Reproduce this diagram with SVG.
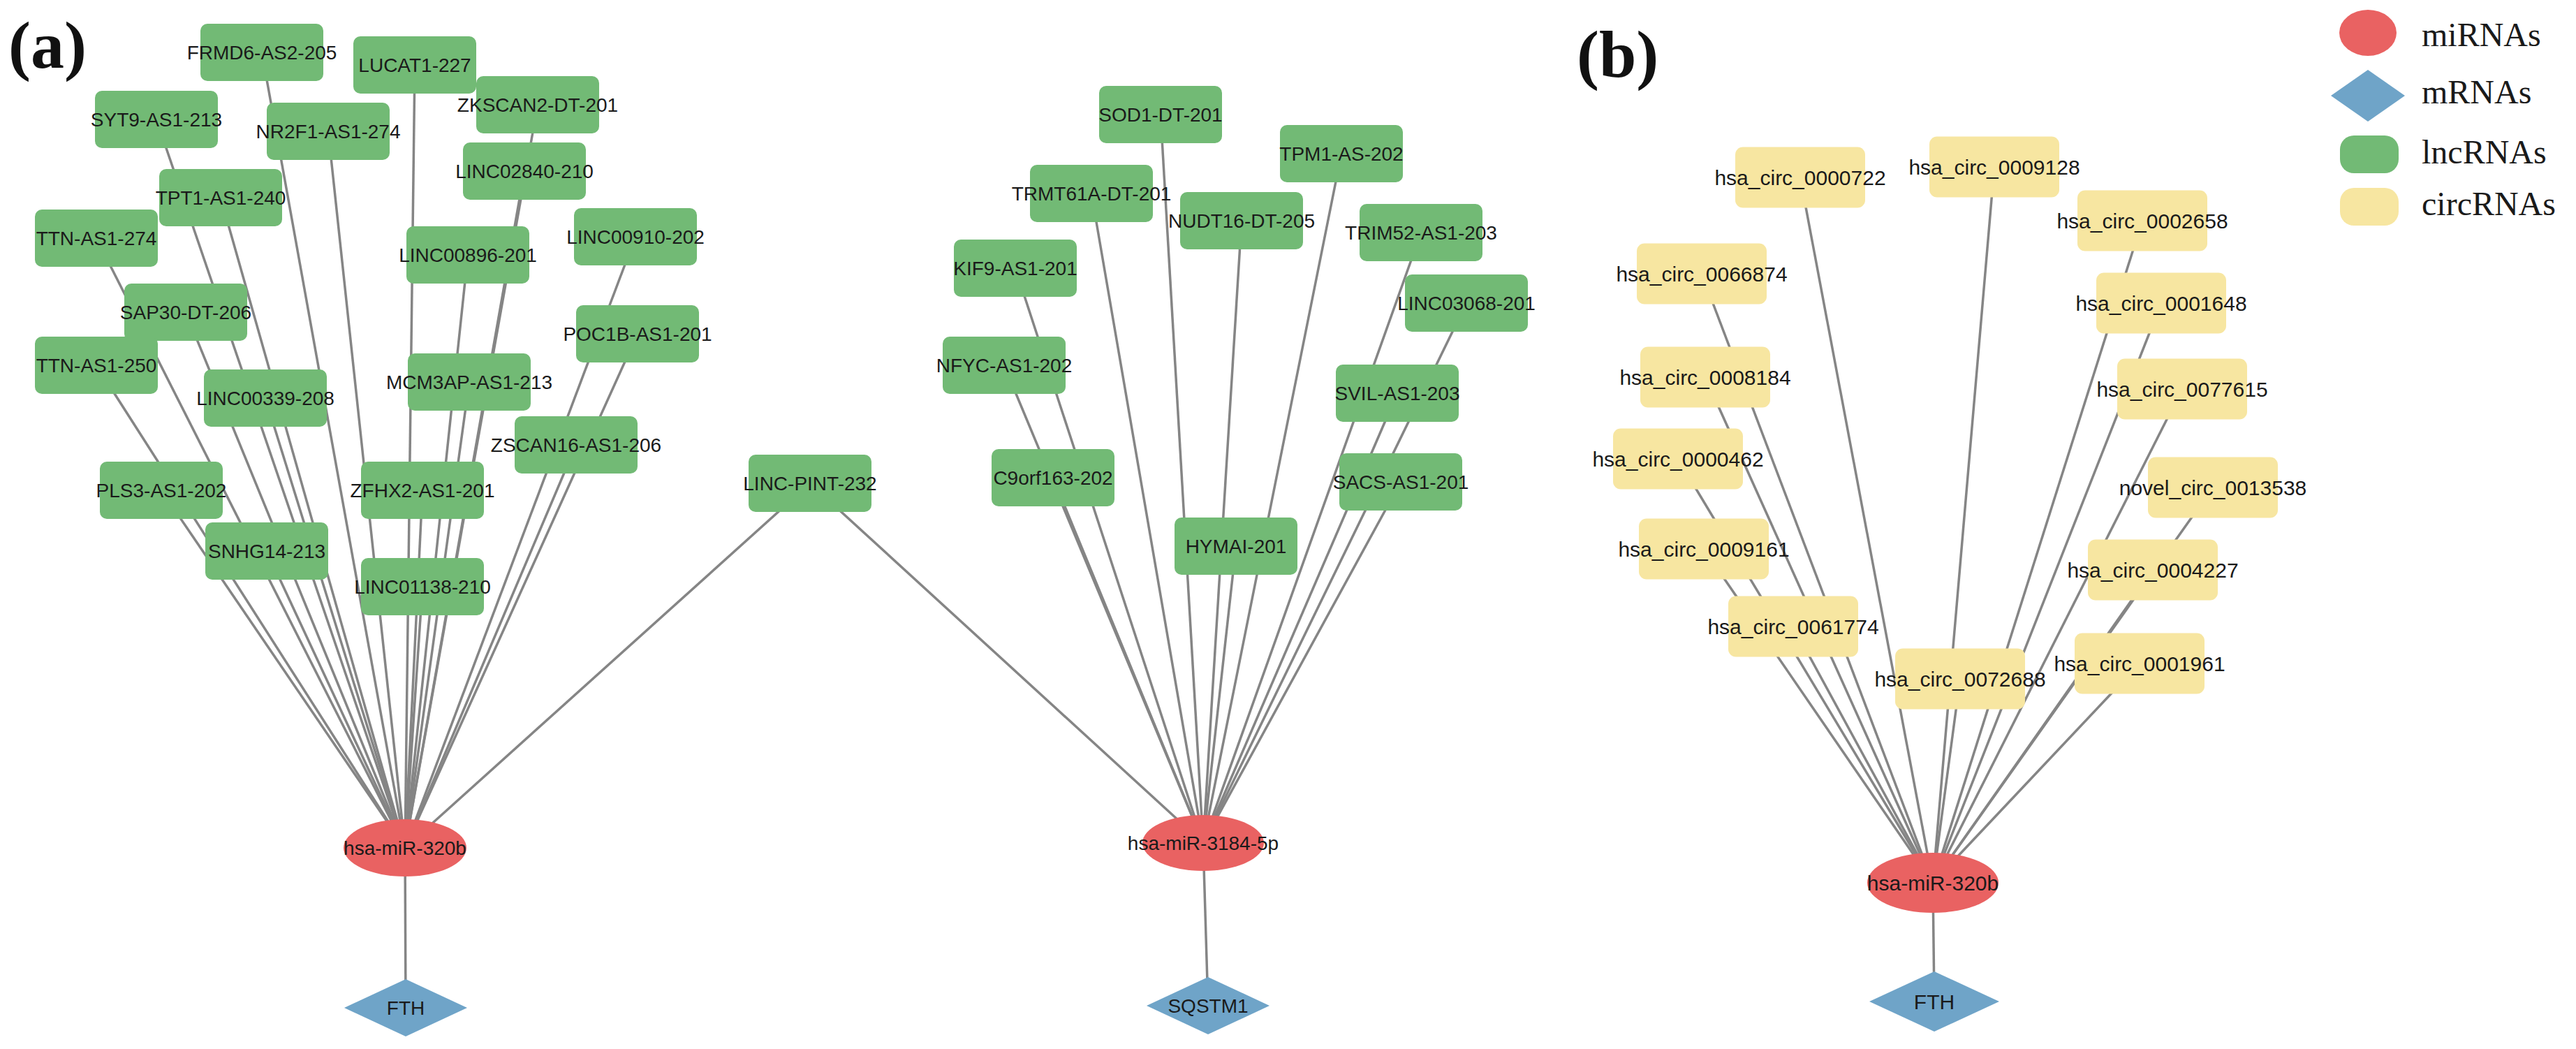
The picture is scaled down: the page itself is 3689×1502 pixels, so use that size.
<svg xmlns="http://www.w3.org/2000/svg" xmlns:xlink="http://www.w3.org/1999/xlink" width="3689" height="1502" viewBox="0 0 3689 1502">
<style>
.e{stroke:#858585;stroke-width:3.5;fill:none}
.g{fill:#72BA75}
.y{fill:#F7E6A1}
.r{fill:#E96262}
.b{fill:#6FA4C8}
.t{font-family:"Liberation Sans",Arial,sans-serif;font-size:28px;fill:#1a1a1a;text-anchor:middle;dominant-baseline:central}
.t30{font-size:30px}
.lab{font-family:"Liberation Serif","Times New Roman",serif;font-weight:bold;font-size:96px;fill:#111}
.leg{font-family:"Liberation Serif","Times New Roman",serif;font-size:48px;fill:#1a1a1a}
</style>
<defs>
<rect id="gb" x="-88" y="-41" width="176" height="82" rx="10"/>
<rect id="yb" x="-93" y="-43.5" width="186" height="87" rx="11"/>
</defs>
<rect width="3689" height="1502" fill="#fff"/>
<text class="lab" x="12" y="97">(a)</text>
<text class="lab" x="2258" y="110">(b)</text>
<g id="edges">
<line class="e" x1="375" y1="75" x2="580" y2="1214"/>
<line class="e" x1="594" y1="93" x2="580" y2="1214"/>
<line class="e" x1="770" y1="150" x2="580" y2="1214"/>
<line class="e" x1="224" y1="171" x2="580" y2="1214"/>
<line class="e" x1="470" y1="188" x2="580" y2="1214"/>
<line class="e" x1="751" y1="245" x2="580" y2="1214"/>
<line class="e" x1="316" y1="283" x2="580" y2="1214"/>
<line class="e" x1="138" y1="341" x2="580" y2="1214"/>
<line class="e" x1="670" y1="365" x2="580" y2="1214"/>
<line class="e" x1="910" y1="339" x2="580" y2="1214"/>
<line class="e" x1="266" y1="447" x2="580" y2="1214"/>
<line class="e" x1="913" y1="478" x2="580" y2="1214"/>
<line class="e" x1="138" y1="523" x2="580" y2="1214"/>
<line class="e" x1="380" y1="570" x2="580" y2="1214"/>
<line class="e" x1="672" y1="547" x2="580" y2="1214"/>
<line class="e" x1="825" y1="637" x2="580" y2="1214"/>
<line class="e" x1="231" y1="702" x2="580" y2="1214"/>
<line class="e" x1="605" y1="702" x2="580" y2="1214"/>
<line class="e" x1="382" y1="789" x2="580" y2="1214"/>
<line class="e" x1="605" y1="840" x2="580" y2="1214"/>
<line class="e" x1="1160" y1="692" x2="580" y2="1214"/>
<line class="e" x1="580" y1="1214" x2="581" y2="1443"/>
<line class="e" x1="1160" y1="692" x2="1723" y2="1207"/>
<line class="e" x1="1662" y1="164" x2="1723" y2="1207"/>
<line class="e" x1="1921" y1="220" x2="1723" y2="1207"/>
<line class="e" x1="1563" y1="277" x2="1723" y2="1207"/>
<line class="e" x1="1778" y1="316" x2="1723" y2="1207"/>
<line class="e" x1="2035" y1="333" x2="1723" y2="1207"/>
<line class="e" x1="1454" y1="384" x2="1723" y2="1207"/>
<line class="e" x1="2100" y1="434" x2="1723" y2="1207"/>
<line class="e" x1="1438" y1="523" x2="1723" y2="1207"/>
<line class="e" x1="2001" y1="563" x2="1723" y2="1207"/>
<line class="e" x1="1508" y1="684" x2="1723" y2="1207"/>
<line class="e" x1="1770" y1="782" x2="1723" y2="1207"/>
<line class="e" x1="2006" y1="690" x2="1723" y2="1207"/>
<line class="e" x1="1723" y1="1207" x2="1730" y2="1440"/>
<line class="e" x1="2578" y1="254" x2="2768" y2="1264"/>
<line class="e" x1="2856" y1="239" x2="2768" y2="1264"/>
<line class="e" x1="3068" y1="316" x2="2768" y2="1264"/>
<line class="e" x1="2437" y1="392" x2="2768" y2="1264"/>
<line class="e" x1="3095" y1="434" x2="2768" y2="1264"/>
<line class="e" x1="2442" y1="540" x2="2768" y2="1264"/>
<line class="e" x1="3125" y1="557" x2="2768" y2="1264"/>
<line class="e" x1="2403" y1="657" x2="2768" y2="1264"/>
<line class="e" x1="3169" y1="698" x2="2768" y2="1264"/>
<line class="e" x1="2440" y1="786" x2="2768" y2="1264"/>
<line class="e" x1="3083" y1="816" x2="2768" y2="1264"/>
<line class="e" x1="2568" y1="897" x2="2768" y2="1264"/>
<line class="e" x1="3064" y1="950" x2="2768" y2="1264"/>
<line class="e" x1="2807" y1="972" x2="2768" y2="1264"/>
<line class="e" x1="2768" y1="1264" x2="2770" y2="1434"/>
</g>
<g id="n-FRMD6-AS2-205" transform="translate(375,75)"><use href="#gb" class="g"/><text class="t">FRMD6-AS2-205</text></g>
<g id="n-LUCAT1-227" transform="translate(594,93)"><use href="#gb" class="g"/><text class="t">LUCAT1-227</text></g>
<g id="n-ZKSCAN2-DT-201" transform="translate(770,150)"><use href="#gb" class="g"/><text class="t">ZKSCAN2-DT-201</text></g>
<g id="n-SYT9-AS1-213" transform="translate(224,171)"><use href="#gb" class="g"/><text class="t">SYT9-AS1-213</text></g>
<g id="n-NR2F1-AS1-274" transform="translate(470,188)"><use href="#gb" class="g"/><text class="t">NR2F1-AS1-274</text></g>
<g id="n-LINC02840-210" transform="translate(751,245)"><use href="#gb" class="g"/><text class="t">LINC02840-210</text></g>
<g id="n-TPT1-AS1-240" transform="translate(316,283)"><use href="#gb" class="g"/><text class="t">TPT1-AS1-240</text></g>
<g id="n-TTN-AS1-274" transform="translate(138,341)"><use href="#gb" class="g"/><text class="t">TTN-AS1-274</text></g>
<g id="n-LINC00896-201" transform="translate(670,365)"><use href="#gb" class="g"/><text class="t">LINC00896-201</text></g>
<g id="n-LINC00910-202" transform="translate(910,339)"><use href="#gb" class="g"/><text class="t">LINC00910-202</text></g>
<g id="n-SAP30-DT-206" transform="translate(266,447)"><use href="#gb" class="g"/><text class="t">SAP30-DT-206</text></g>
<g id="n-POC1B-AS1-201" transform="translate(913,478)"><use href="#gb" class="g"/><text class="t">POC1B-AS1-201</text></g>
<g id="n-TTN-AS1-250" transform="translate(138,523)"><use href="#gb" class="g"/><text class="t">TTN-AS1-250</text></g>
<g id="n-LINC00339-208" transform="translate(380,570)"><use href="#gb" class="g"/><text class="t">LINC00339-208</text></g>
<g id="n-MCM3AP-AS1-213" transform="translate(672,547)"><use href="#gb" class="g"/><text class="t">MCM3AP-AS1-213</text></g>
<g id="n-ZSCAN16-AS1-206" transform="translate(825,637)"><use href="#gb" class="g"/><text class="t">ZSCAN16-AS1-206</text></g>
<g id="n-PLS3-AS1-202" transform="translate(231,702)"><use href="#gb" class="g"/><text class="t">PLS3-AS1-202</text></g>
<g id="n-ZFHX2-AS1-201" transform="translate(605,702)"><use href="#gb" class="g"/><text class="t">ZFHX2-AS1-201</text></g>
<g id="n-SNHG14-213" transform="translate(382,789)"><use href="#gb" class="g"/><text class="t">SNHG14-213</text></g>
<g id="n-LINC01138-210" transform="translate(605,840)"><use href="#gb" class="g"/><text class="t">LINC01138-210</text></g>
<g id="n-LINC-PINT-232" transform="translate(1160,692)"><use href="#gb" class="g"/><text class="t">LINC-PINT-232</text></g>
<g id="n-SOD1-DT-201" transform="translate(1662,164)"><use href="#gb" class="g"/><text class="t">SOD1-DT-201</text></g>
<g id="n-TPM1-AS-202" transform="translate(1921,220)"><use href="#gb" class="g"/><text class="t">TPM1-AS-202</text></g>
<g id="n-TRMT61A-DT-201" transform="translate(1563,277)"><use href="#gb" class="g"/><text class="t">TRMT61A-DT-201</text></g>
<g id="n-NUDT16-DT-205" transform="translate(1778,316)"><use href="#gb" class="g"/><text class="t">NUDT16-DT-205</text></g>
<g id="n-TRIM52-AS1-203" transform="translate(2035,333)"><use href="#gb" class="g"/><text class="t">TRIM52-AS1-203</text></g>
<g id="n-KIF9-AS1-201" transform="translate(1454,384)"><use href="#gb" class="g"/><text class="t">KIF9-AS1-201</text></g>
<g id="n-LINC03068-201" transform="translate(2100,434)"><use href="#gb" class="g"/><text class="t">LINC03068-201</text></g>
<g id="n-NFYC-AS1-202" transform="translate(1438,523)"><use href="#gb" class="g"/><text class="t">NFYC-AS1-202</text></g>
<g id="n-SVIL-AS1-203" transform="translate(2001,563)"><use href="#gb" class="g"/><text class="t">SVIL-AS1-203</text></g>
<g id="n-C9orf163-202" transform="translate(1508,684)"><use href="#gb" class="g"/><text class="t">C9orf163-202</text></g>
<g id="n-HYMAI-201" transform="translate(1770,782)"><use href="#gb" class="g"/><text class="t">HYMAI-201</text></g>
<g id="n-SACS-AS1-201" transform="translate(2006,690)"><use href="#gb" class="g"/><text class="t">SACS-AS1-201</text></g>
<g id="n-hsa-miR-320b-a" transform="translate(580,1214)"><ellipse rx="88" ry="41" class="r"/><text class="t">hsa-miR-320b</text></g>
<g id="n-FTH-a" transform="translate(581,1443)"><polygon points="-88,0 0,-41 88,0 0,41" class="b"/><text class="t">FTH</text></g>
<g id="n-hsa-miR-3184-5p" transform="translate(1723,1207)"><ellipse rx="87" ry="40" class="r"/><text class="t">hsa-miR-3184-5p</text></g>
<g id="n-SQSTM1" transform="translate(1730,1440)"><polygon points="-88,0 0,-41 88,0 0,41" class="b"/><text class="t">SQSTM1</text></g>
<g id="n-hsa_circ_0000722" transform="translate(2578,254)"><use href="#yb" class="y"/><text class="t t30">hsa_circ_0000722</text></g>
<g id="n-hsa_circ_0009128" transform="translate(2856,239)"><use href="#yb" class="y"/><text class="t t30">hsa_circ_0009128</text></g>
<g id="n-hsa_circ_0002658" transform="translate(3068,316)"><use href="#yb" class="y"/><text class="t t30">hsa_circ_0002658</text></g>
<g id="n-hsa_circ_0066874" transform="translate(2437,392)"><use href="#yb" class="y"/><text class="t t30">hsa_circ_0066874</text></g>
<g id="n-hsa_circ_0001648" transform="translate(3095,434)"><use href="#yb" class="y"/><text class="t t30">hsa_circ_0001648</text></g>
<g id="n-hsa_circ_0008184" transform="translate(2442,540)"><use href="#yb" class="y"/><text class="t t30">hsa_circ_0008184</text></g>
<g id="n-hsa_circ_0077615" transform="translate(3125,557)"><use href="#yb" class="y"/><text class="t t30">hsa_circ_0077615</text></g>
<g id="n-hsa_circ_0000462" transform="translate(2403,657)"><use href="#yb" class="y"/><text class="t t30">hsa_circ_0000462</text></g>
<g id="n-novel_circ_0013538" transform="translate(3169,698)"><use href="#yb" class="y"/><text class="t t30">novel_circ_0013538</text></g>
<g id="n-hsa_circ_0009161" transform="translate(2440,786)"><use href="#yb" class="y"/><text class="t t30">hsa_circ_0009161</text></g>
<g id="n-hsa_circ_0004227" transform="translate(3083,816)"><use href="#yb" class="y"/><text class="t t30">hsa_circ_0004227</text></g>
<g id="n-hsa_circ_0061774" transform="translate(2568,897)"><use href="#yb" class="y"/><text class="t t30">hsa_circ_0061774</text></g>
<g id="n-hsa_circ_0001961" transform="translate(3064,950)"><use href="#yb" class="y"/><text class="t t30">hsa_circ_0001961</text></g>
<g id="n-hsa_circ_0072688" transform="translate(2807,972)"><use href="#yb" class="y"/><text class="t t30">hsa_circ_0072688</text></g>
<g id="n-hsa-miR-320b-b" transform="translate(2768,1264)"><ellipse rx="94" ry="43" class="r"/><text class="t t30">hsa-miR-320b</text></g>
<g id="n-FTH-b" transform="translate(2770,1434)"><polygon points="-93,0 0,-43 93,0 0,43" class="b"/><text class="t t30">FTH</text></g>
<g id="legend">
<ellipse cx="3391" cy="47" rx="41" ry="33" class="r"/>
<text class="leg" x="3468" y="66">miRNAs</text>
<polygon points="3338,137 3391,100 3444,137 3391,174" class="b"/>
<text class="leg" x="3468" y="148">mRNAs</text>
<rect x="3351" y="194" width="84" height="54" rx="20" class="g"/>
<text class="leg" x="3468" y="234">lncRNAs</text>
<rect x="3351" y="269" width="84" height="54" rx="20" class="y"/>
<text class="leg" x="3468" y="308">circRNAs</text>
</g>
</svg>
